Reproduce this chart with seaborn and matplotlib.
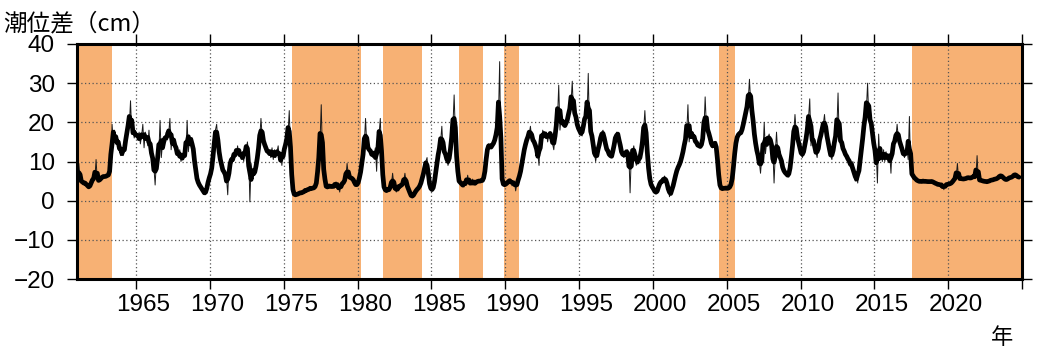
import numpy as np
import pandas as pd
import matplotlib
matplotlib.use("Agg")
import matplotlib.pyplot as plt
import seaborn as sns

# Monthly mean sea-level difference (cm), January 1961 onwards, one row per year
level_1960s = [
    6.5, 9.5, 5.5, 5.0, 4.5, 4.8, 4.2, 4.5, 3.8, 3.2, 3.6, 4.5,              # 1961
    5.5, 5.8, 5.5, 10.5, 5.0, 5.5, 5.0, 5.5, 6.5, 6.0, 6.0, 6.5,             # 1962
    6.2, 6.5, 7.0, 9.0, 19.5, 15.0, 18.0, 14.5, 16.5, 13.5, 15.0, 11.5,      # 1963
    13.0, 11.5, 14.5, 13.0, 18.5, 20.0, 19.0, 25.5, 17.0, 19.0, 16.0, 17.5,  # 1964
    17.0, 15.5, 17.5, 14.5, 16.5, 19.5, 13.5, 17.5, 16.5, 14.0, 18.0, 12.5,  # 1965
    13.0, 11.0, 8.5, 4.0, 10.0, 10.5, 12.0, 20.5, 11.0, 14.5, 15.0, 15.5,    # 1966
    17.5, 15.5, 17.0, 21.0, 13.0, 16.5, 14.5, 15.5, 12.5, 12.5, 11.0, 13.0,  # 1967
    10.0, 12.0, 10.5, 12.5, 11.5, 20.5, 12.5, 16.0, 15.0, 16.0, 12.5, 11.0,  # 1968
    7.0, 5.5, 4.5, 4.0, 3.5, 3.0, 2.5, 2.0, 1.5, 3.0, 5.0, 6.0,              # 1969
]
level_1970s = [
    6.5, 8.0, 10.5, 15.0, 18.0, 19.5, 15.0, 12.0, 10.5, 9.0, 8.0, 6.5,       # 1970
    7.5, 6.0, 1.5, 9.0, 10.5, 9.0, 12.0, 10.5, 13.0, 11.5, 14.0, 12.0,       # 1971
    12.5, 10.5, 12.5, 10.0, 13.5, 13.0, 15.0, 12.0, -0.3, 9.5, 7.0, 6.5,     # 1972
    7.0, 8.5, 11.0, 13.0, 16.0, 21.0, 16.5, 15.0, 14.5, 13.5, 12.5, 12.0,    # 1973
    13.0, 11.0, 13.5, 10.5, 13.0, 11.0, 12.5, 14.0, 10.0, 12.0, 9.0, 12.5,   # 1974
    12.5, 14.5, 16.0, 17.0, 23.0, 13.0, 5.0, 2.0, 1.5, 1.5, 1.5, 1.8,        # 1975
    1.8, 2.0, 2.2, 1.8, 2.5, 2.6, 2.8, 2.5, 3.2, 3.0, 3.3, 3.0,              # 1976
    3.3, 3.5, 4.0, 6.0, 12.0, 15.0, 24.5, 11.0, 9.0, 4.0, 3.5, 3.5,          # 1977
    3.5, 4.2, 3.4, 3.2, 4.4, 3.3, 4.8, 3.6, 4.0, 2.2, 4.2, 4.3,              # 1978
    4.5, 5.0, 6.0, 9.5, 6.5, 6.0, 5.5, 6.0, 5.5, 4.5, 4.0, 3.8,              # 1979
]
level_1980s = [
    4.5, 5.5, 7.5, 9.0, 12.0, 14.5, 21.0, 14.0, 13.0, 13.5, 12.5, 12.0,      # 1980
    11.0, 12.0, 13.5, 7.5, 15.0, 17.0, 21.0, 12.0, 5.0, 3.0, 2.5, 2.8,       # 1981
    2.4, 3.2, 2.8, 4.2, 7.0, 4.0, 3.2, 2.2, 3.4, 3.2, 4.3, 3.6,              # 1982
    4.0, 5.0, 7.0, 4.5, 3.5, 3.0, 2.0, 1.2, 0.8, 1.5, 2.0, 2.5,              # 1983
    3.0, 3.2, 3.5, 4.5, 5.5, 7.0, 8.0, 10.0, 11.0, 6.0, 4.0, 3.0,            # 1984
    2.5, 3.0, 4.5, 7.0, 10.0, 11.5, 13.5, 15.0, 19.0, 13.0, 12.5, 12.0,      # 1985
    11.0, 9.0, 10.0, 13.5, 16.0, 19.0, 27.0, 17.0, 12.0, 5.0, 5.5, 4.5,      # 1986
    4.0, 4.4, 3.5, 5.2, 4.3, 6.5, 4.6, 4.8, 4.0, 5.5, 4.0, 4.8,              # 1987
    4.5, 5.0, 5.2, 4.8, 5.0, 5.5, 5.0, 7.0, 10.5, 14.0, 14.5, 13.5,          # 1988
    14.0, 13.5, 15.0, 15.5, 16.0, 19.0, 21.0, 35.5, 8.0, 4.5, 4.2, 4.0,      # 1989
]
level_1990s = [
    4.0, 4.7, 4.8, 5.0, 5.5, 3.8, 4.8, 5.0, 2.5, 4.5, 5.2, 6.0,              # 1990
    7.5, 9.0, 11.5, 13.0, 14.5, 15.5, 16.5, 17.0, 19.0, 16.0, 15.5, 15.0,    # 1991
    14.5, 13.0, 12.0, 9.0, 17.0, 14.5, 18.0, 17.0, 16.5, 17.5, 15.0, 17.0,   # 1992
    17.5, 17.0, 14.5, 13.0, 16.5, 20.0, 21.0, 29.5, 18.0, 21.5, 20.5, 19.0,  # 1993
    19.0, 19.5, 21.0, 21.5, 24.0, 25.0, 30.5, 22.0, 24.0, 21.0, 19.0, 18.5,  # 1994
    18.0, 17.0, 16.5, 19.0, 21.5, 22.0, 21.0, 32.5, 17.5, 19.0, 16.5, 14.0,  # 1995
    12.5, 10.0, 12.0, 12.5, 15.0, 15.5, 17.5, 18.0, 16.0, 14.0, 13.5, 12.0,  # 1996
    12.5, 11.0, 11.0, 12.0, 15.0, 15.5, 17.5, 17.0, 16.5, 13.0, 13.0, 11.5,  # 1997
    11.0, 12.5, 12.0, 13.0, 11.5, 2.0, 12.0, 12.5, 14.0, 12.0, 9.0, 10.5,    # 1998
    10.0, 11.0, 12.0, 15.0, 18.0, 23.0, 17.0, 12.0, 8.0, 5.0, 4.0, 3.5,      # 1999
]
level_2000s = [
    3.0, 2.5, 1.8, 2.2, 3.2, 4.8, 4.7, 4.8, 5.2, 6.3, 5.2, 4.5,              # 2000
    3.5, 1.0, 2.0, 2.5, 4.0, 5.0, 6.5, 8.0, 8.5, 9.0, 10.0, 11.0,            # 2001
    12.5, 14.0, 16.0, 17.0, 24.5, 15.0, 18.0, 16.0, 17.5, 15.5, 16.0, 14.0,  # 2002
    14.5, 14.0, 13.5, 14.0, 15.5, 18.0, 26.5, 19.0, 18.0, 17.5, 16.0, 14.5,  # 2003
    13.5, 14.0, 15.0, 15.0, 11.0, 5.5, 3.5, 3.0, 3.2, 3.0, 3.3, 3.2,         # 2004
    3.2, 3.0, 3.5, 4.0, 5.0, 8.0, 13.0, 15.0, 16.0, 17.5, 17.0, 17.0,        # 2005
    18.0, 19.5, 21.0, 22.5, 24.0, 25.5, 31.0, 25.0, 24.0, 20.0, 17.0, 14.0,  # 2006
    13.0, 11.5, 10.0, 7.0, 11.0, 12.0, 20.0, 12.0, 15.0, 16.0, 17.0, 15.0,   # 2007
    14.5, 13.0, 4.5, 12.0, 17.5, 12.0, 11.0, 12.5, 9.5, 8.5, 7.5, 7.0,       # 2008
    7.0, 6.5, 6.0, 8.0, 11.0, 14.0, 17.0, 22.0, 17.5, 16.0, 15.0, 13.5,      # 2009
]
level_2010s = [
    12.0, 11.0, 12.5, 14.0, 16.0, 17.5, 21.0, 26.0, 14.0, 17.0, 15.5, 13.5,  # 2010
    12.5, 11.0, 14.0, 15.0, 17.5, 17.5, 19.5, 22.0, 18.0, 16.5, 15.0, 13.0,  # 2011
    11.5, 10.5, 13.0, 15.0, 16.5, 18.0, 27.5, 15.0, 16.5, 14.5, 13.5, 12.0,  # 2012
    12.5, 11.0, 10.5, 10.5, 9.5, 8.0, 10.0, 6.5, 5.0, 7.0, 4.5, 8.5,         # 2013
    10.0, 12.5, 16.0, 19.0, 22.0, 23.0, 30.0, 21.0, 21.5, 19.5, 18.0, 14.0,  # 2014
    12.0, 12.5, 4.5, 17.0, 10.5, 12.5, 10.0, 13.0, 10.0, 12.5, 10.5, 11.5,   # 2015
    12.0, 7.0, 14.0, 15.0, 14.5, 16.0, 19.5, 16.0, 15.0, 14.5, 13.0, 12.0,   # 2016
    11.0, 12.5, 13.5, 10.5, 21.5, 7.5, 7.0, 6.0, 6.0, 5.5, 5.2, 5.0,         # 2017
    5.0, 4.8, 5.0, 4.9, 5.1, 4.8, 4.9, 5.0, 4.7, 4.9, 5.0, 4.8,              # 2018
    4.6, 4.5, 4.3, 4.2, 4.0, 4.2, 3.9, 4.0, 2.8, 4.1, 4.0, 4.2,              # 2019
]
level_2020s = [
    4.3, 4.2, 4.5, 4.8, 5.2, 5.8, 6.0, 9.5, 5.5, 5.8, 5.6, 5.5,              # 2020
    5.6, 5.5, 5.7, 5.8, 6.0, 5.8, 5.6, 6.0, 6.3, 6.2, 5.8, 11.5,             # 2021
    5.2, 5.4, 5.2, 5.0, 5.1, 4.9, 4.8, 5.0, 4.7, 5.1, 5.3, 5.2,              # 2022
    5.3, 5.5, 5.6, 5.5, 5.8, 6.2, 6.5, 6.3, 6.0, 5.6, 5.4, 5.3,              # 2023
    5.5, 5.9, 6.0, 5.8, 6.2, 6.6, 6.8, 6.4, 6.1, 5.9, 6.0,                   # 2024
]

# Large-meander periods (decimal years)
meander_start = [1961.0, 1975.55, 1981.75, 1986.85, 1989.9, 2004.45, 2017.53]
meander_end = [1963.35, 1980.2, 1984.35, 1988.5, 1990.95, 2005.57, 2025.0]

# Year boundaries carry the tick marks; each label sits in the middle of its year
year_ticks = [1965, 1970, 1975, 1980, 1985, 1990, 1995, 2000, 2005, 2010, 2015, 2020, 2025]
label_years = [1965, 1970, 1975, 1980, 1985, 1990, 1995, 2000, 2005, 2010, 2015, 2020]
year_labels = ["1965", "1970", "1975", "1980", "1985", "1990", "1995", "2000",
               "2005", "2010", "2015", "2020"]
level_ticks = [-20, -10, 0, 10, 20, 30, 40]

FIRST_YEAR = 1961

values = np.array(level_1960s + level_1970s + level_1980s + level_1990s
                  + level_2000s + level_2010s + level_2020s, dtype=float)
df = pd.DataFrame({
    "year": FIRST_YEAR + (np.arange(len(values)) + 0.5) / 12.0,
    "level": values,
})
# 3-month running mean
df["smooth"] = df["level"].rolling(3, center=True).mean()

sns.set_style("ticks")
plt.rcParams["font.family"] = ["Liberation Sans", "DejaVu Sans"]
plt.rcParams["axes.unicode_minus"] = True
plt.rcParams["text.color"] = "black"
plt.rcParams["xtick.color"] = "black"
plt.rcParams["ytick.color"] = "black"

W, H = 1064, 347
fig = plt.figure(figsize=(W / 100, H / 100), dpi=100)
ax = fig.add_axes([77 / W, 1 - 279 / H, (1022 - 77) / W, (279 - 44) / H])

for s, e in zip(meander_start, meander_end):
    ax.axvspan(s, e, color="#F7B174", lw=0, zorder=0)

ax.set_axisbelow(True)

sns.lineplot(data=df, x="year", y="level", ax=ax, color="#1a1a1a",
             linewidth=0.7, zorder=3)
sns.lineplot(data=df.dropna(), x="year", y="smooth", ax=ax, color="black",
             linewidth=3.4, zorder=4)

ax.set_xlim(1961, 2025)
ax.set_ylim(-20, 40)
ax.set_xticks(year_ticks)
ax.set_xticklabels([""] * len(year_ticks))
ax.set_xticks([y + 0.5 for y in label_years], minor=True)
ax.set_xticklabels(year_labels, minor=True)
ax.set_yticks(level_ticks)
ax.set_xlabel("")
ax.set_ylabel("")

ax.grid(True, which="major", linestyle=(0, (1, 2)), color="#555555", linewidth=0.9)
ax.grid(False, which="minor")

ax.tick_params(axis="both", which="major", direction="out", length=7,
               width=1.0, color="black", top=True, right=True,
               labeltop=False, labelright=False, labelsize=17.5,
               labelcolor="black")
ax.tick_params(axis="x", which="minor", length=0, top=False, bottom=True,
               labelsize=17.5, labelcolor="black", pad=4 + 7)
ax.tick_params(axis="y", which="major", pad=9)

for sp in ax.spines.values():
    sp.set_visible(True)
    sp.set_linewidth(2.2)
    sp.set_color("black")
    sp.set_zorder(5)

cjk = ["Noto Sans CJK JP", "DejaVu Sans"]
fig.text(3 / W, 1 - 35 / H, "潮位差（cm）", fontsize=17, family=cjk,
         color="black", ha="left", va="bottom")
fig.text(1002 / W, 1 - 337 / H, "年", fontsize=16, family=cjk,
         color="black", ha="center", va="center")

fig.savefig("out.png", dpi=100)
